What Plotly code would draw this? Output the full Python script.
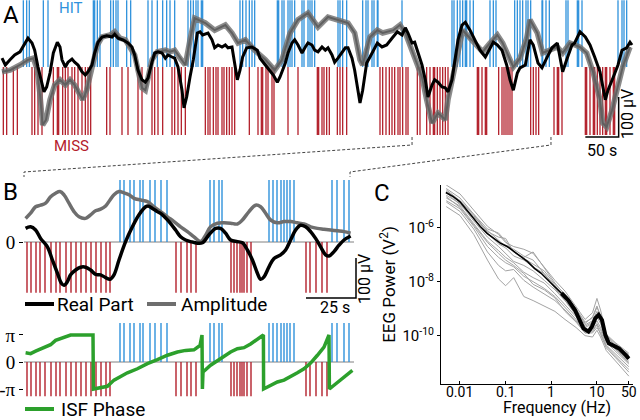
import math
import plotly.graph_objects as go

# ---------------- Panel A : whole session ----------------
hit_times_a = [35, 40, 44, 65, 72, 140, 142, 146, 150, 166, 170, 174, 177, 190, 196,
               222, 228, 236, 244, 250, 255, 262, 282, 286, 290, 294, 297, 302, 304,
               360, 364, 369, 374, 378, 382, 416, 418, 423, 426, 432, 435, 438, 442,
               453, 456, 462, 465, 468, 472, 507, 510, 514, 520, 544, 549, 552, 558,
               561, 566, 567, 603, 678, 681, 686, 690, 694, 698, 700, 705, 710, 735,
               740, 744, 772, 776, 780, 784, 789, 792, 796, 813, 814, 819, 824, 849,
               852, 866, 868, 873, 927, 933, 936, 940]
miss_times_a = [5, 10, 20, 26, 48, 52, 57, 63, 80, 86, 88, 94, 98, 102, 108, 112, 117,
                123, 128, 132, 136, 160, 165, 183, 192, 207, 213, 228, 232, 237, 244,
                258, 262, 267, 272, 278, 308, 312, 315, 320, 324, 327, 333, 336, 340,
                344, 348, 352, 374, 387, 392, 394, 399, 402, 408, 411, 432, 447, 476,
                478, 483, 486, 490, 494, 506, 510, 514, 520, 570, 574, 579, 584, 588,
                592, 597, 600, 604, 609, 612, 626, 630, 640, 645, 650, 652, 656, 660,
                664, 668, 672, 716, 718, 723, 728, 730, 748, 753, 756, 759, 762, 765,
                768, 796, 800, 804, 808, 831, 836, 838, 843, 878, 880, 885, 890, 892,
                896, 900, 904, 908, 910, 915, 920, 922]
real_t_a = [3, 8, 15, 22, 30, 38, 42, 48, 52, 57,
            63, 66, 70, 75, 80, 86, 90, 93, 98, 102,
            108, 112, 117, 123, 128, 132, 138, 142, 147, 153,
            160, 168, 172, 177, 184, 192, 198, 202, 207, 213,
            218, 222, 228, 232, 237, 243, 248, 252, 258, 262,
            267, 273, 276, 280, 285, 290, 296, 300, 304, 312,
            318, 322, 327, 333, 338, 342, 348, 352, 356, 360,
            364, 370, 378, 386, 390, 398, 405, 410, 416, 420,
            428, 432, 438, 442, 447, 453, 458, 462, 468, 472,
            477, 483, 488, 492, 498, 502, 507, 513, 518, 522,
            528, 532, 536, 540, 544, 550, 555, 560, 566, 573,
            580, 588, 596, 603, 608, 612, 618, 622, 627, 633,
            638, 642, 648, 652, 657, 663, 668, 672, 678, 682,
            687, 693, 698, 705, 712, 720, 728, 735, 740, 746,
            753, 760, 765, 770, 776, 780, 788, 795, 800, 807,
            813, 820, 828, 836, 840, 844, 850, 858, 862, 870,
            878, 885, 892, 900, 908, 912, 920, 927, 933, 940,
            945, 948]
real_uv_a = [22, 5, 18, 30, 38, 60, 72, 60, 42, 0,
             -40, -62, -50, -15, 35, 62, 50, 18, 0, 12,
             20, 12, 5, -12, -20, -12, 5, 35, 62, 75,
             78, 75, 82, 72, 68, 60, 50, 30, -8, -32,
             -38, -28, 12, 35, 38, 35, 22, 30, 25, 22,
             0, -58, -102, -75, -25, 18, 85, 88, 80, 85,
             68, 48, 55, 50, 55, 48, 50, 10, -32, -8,
             25, 48, 50, 42, 22, 5, -8, -20, -38, -25,
             10, 35, 60, 68, 55, 35, 50, 60, 55, 42,
             38, 50, 42, 48, 30, 12, 22, 38, 48, 48,
             22, -8, -50, -90, -58, 10, 25, 42, 60, 50,
             55, 72, 88, 80, 98, 85, 60, 62, 38, 5,
             -32, -75, -45, -32, -38, -50, -52, -62, -32, 18,
             68, 105, 112, 92, 68, 42, 25, 48, 62, 55,
             42, 5, -32, -58, -15, -2, 5, 68, 55, 10,
             -2, 22, 48, 60, 25, -12, 18, 55, 60, 88,
             75, 55, 25, -12, -82, -58, -25, 5, 42, 48,
             62, 55]
raw_t_a = [3, 15, 30, 42, 50, 56, 60, 64, 69, 75,
           82, 90, 98, 105, 112, 120, 124, 130, 138, 146,
           153, 165, 172, 180, 188, 195, 202, 207, 213, 218,
           222, 228, 236, 248, 255, 262, 270, 278, 285, 292,
           308, 322, 338, 348, 357, 368, 382, 398, 412, 423,
           435, 447, 462, 477, 492, 507, 522, 532, 540, 544,
           555, 566, 574, 590, 600, 608, 618, 626, 633, 640,
           648, 657, 668, 672, 680, 687, 694, 705, 716, 724,
           735, 746, 754, 765, 770, 780, 790, 795, 806, 814,
           825, 836, 844, 855, 870, 880, 890, 900, 904, 910,
           918, 926, 934, 945]
raw_uv_a = [-12, -8, 5, 18, 22, -8, -70, -145, -132, -82,
            -45, -32, -45, -32, -45, -70, -82, -58, 5, 55,
            75, 80, 88, 72, 68, 48, 30, -8, -52, -58,
            -32, 18, 38, 42, 38, 42, 22, 5, 68, 122,
            110, 92, 105, 85, 60, 68, 42, 18, -8, 18,
            85, 118, 135, 100, 125, 118, 110, 85, 18, 5,
            75, 92, 85, 92, 105, 85, 42, 10, -25, -82,
            -140, -115, -132, -82, -15, 50, 92, 72, 55, 38,
            60, 80, 60, 18, 0, 22, 72, 118, 85, 35,
            42, 50, 35, 60, 50, 35, -15, -82, -140, -150,
            -108, -50, 0, 50]

# ---------------- Panel B : zoomed segment ----------------
hit_times_b = [48, 50, 53, 55, 58, 59.5, 63, 65.5, 68.5, 71.5, 93, 95, 97.5, 99,
               122.5, 124.5, 126.5, 128.5, 130, 131.5, 133, 135, 154, 156.5, 160, 162.5]
miss_times_b = [1.5, 3.5, 6, 8, 10.5, 13.5, 16, 18, 21, 23.5, 26, 28.5, 31, 33.5, 36,
                38.5, 41, 43, 76, 78.5, 81.5, 83.5, 86, 103.5, 105, 106.5, 108, 109,
                110, 111.5, 113.5, 141, 143, 146, 149, 151.5]
real_t_b = [0.8, 3.3, 5.8, 8.3, 11.7, 14.2, 16.7, 18.7, 20, 21.7, 23.3, 25.8, 28.3,
            30.8, 33.3, 35.8, 38.3, 40.8, 43, 45, 47.5, 50.8, 54.2, 57.5, 60.8, 62,
            64.2, 66.7, 69.2, 72.5, 75.8, 78.3, 80.8, 83.3, 86.7, 89.2, 92.5, 95.8,
            98.3, 100.8, 103.3, 106.7, 109.2, 111.7, 114.2, 116.7, 118.3, 120, 122.5,
            125, 128.3, 130.8, 133.3, 135.8, 138.3, 140.8, 143.3, 145.8, 148.3, 150.8,
            152.5, 155, 157.5, 160, 163.3]
real_uv_b = [34, 38, 30, 9, -12, -45, -78, -103, -108, -99, -82, -70, -63,
             -63, -70, -81, -82, -89, -93, -82, -45, 1, 38, 68, 88, 90,
             84, 76, 68, 51, 30, 13, 5, 1, -3, -2, 18, 34,
             34, 22, 5, 1, -2, -20, -45, -78, -93, -87, -62,
             -41, -32, -20, 5, 30, 42, 38, 26, 9, -12, -32,
             -35, -24, -8, 5, 15]
amp_t_b = [0.8, 3.3, 5.8, 8.3, 10.8, 13.3, 15.8, 18, 20, 22.5, 25, 27.5, 30.8, 33.3,
           35.8, 38.3, 40.8, 43, 45, 47.5, 50, 52.5, 55, 58.3, 61.7, 65, 68.3, 71.7,
           75, 78.3, 81.7, 85, 88.3, 90.8, 93.3, 96.7, 100, 103.3, 106.7, 109.2,
           112.5, 115.8, 118.3, 120.8, 123.3, 126.7, 130, 133.3, 136.7, 140, 143.3,
           146.7, 150, 153.3, 156.7, 160, 163.3]
amp_uv_b = [59, 72, 88, 92, 97, 113, 122, 126, 118, 97, 76, 63, 59, 68,
            78, 82, 90, 105, 118, 126, 123, 118, 109, 105, 101, 88, 76, 63,
            51, 38, 26, 13, 1, 17, 38, 47, 48, 47, 45, 55,
            76, 92, 88, 72, 55, 48, 51, 51, 48, 45, 38,
            34, 32, 30, 28, 26, 22]
phase_t_b = [0.8, 3.3, 5.8, 8.3, 10.8, 13.3, 15.8, 18.3, 20.8, 23.3, 30, 34.5, 34.7,
             38.3, 41.7, 45, 48.3, 51.7, 56.7, 61.7, 66.7, 71.7, 76.7, 80.8, 85, 88,
             89, 89.2, 89.5, 93.3, 96.7, 100, 103.3, 106.7, 110, 113.3, 116.7, 119.7,
             119.8, 123.3, 126.7, 130, 133.3, 136.7, 140, 143.3, 146.7, 150, 152.5,
             152.7, 155, 158.3, 161.7, 164.2]
phase_pi_b = [0.34, 0.31, 0.40, 0.49, 0.58, 0.64, 0.80, 0.86, 0.92, 1.0, 1.0, 1.0, -1.0,
              -0.94, -0.90, -0.67, -0.53, -0.40, -0.25, -0.06, 0.09, 0.25, 0.37, 0.43,
              0.45, 0.61, 1.0, -1.0, -0.37, -0.12, 0.06, 0.21, 0.37, 0.49, 0.53, 0.67,
              0.86, 1.0, -1.0, -0.86, -0.74, -0.67, -0.55, -0.40, -0.25, -0.04, 0.25,
              0.55, 1.0, -1.0, -0.86, -0.67, -0.49, -0.31]
legend_labels_b = ["Real Part", "Amplitude", "ISF Phase"]

# ---------------- Panel C : EEG power spectra ----------------
freq_ticks_c = [0.01, 0.1, 1, 10, 50]
freq_tick_labels_c = ["0.01", "0.1", "1", "10", "50"]
freq_mean = [0.0049, 0.0071, 0.01, 0.014, 0.0198, 0.0278, 0.0392, 0.0551, 0.0774, 0.109,
             0.153, 0.215, 0.303, 0.427, 0.60, 0.843, 1.19, 1.67, 2.34, 3.30,
             4.27, 5.06, 6.53, 7.74, 9.18, 10.9, 12.9, 15.3, 18.2, 21.5,
             30.3, 42.7, 50]
log10_power_mean = [-4.70, -4.85, -5.04, -5.35, -5.65, -5.96, -6.21, -6.40, -6.58, -6.70,
                    -6.89, -7.07, -7.26, -7.51, -7.69, -7.94, -8.19, -8.43, -8.68, -9.05,
                    -9.42, -9.73, -9.85, -9.67, -9.36, -9.23, -9.42, -9.98, -10.28, -10.35,
                    -10.47, -10.72, -10.85]
freq_grid = [0.005, 0.01, 0.02, 0.04, 0.07, 0.1, 0.15, 0.25, 0.4, 0.7, 1.2, 2, 3.5, 5.5,
             8, 10, 12, 16, 25, 35, 50]
log10_power_s1 = [-4.42, -4.75, -5.35, -5.95, -6.25, -6.55, -6.70, -6.80, -6.95, -7.45, -7.95,
                  -8.35, -8.95, -9.40, -9.15, -8.62, -9.05, -9.95, -10.25, -10.45, -10.65]
log10_power_s2 = [-4.55, -4.90, -5.50, -6.05, -6.20, -6.50, -6.90, -7.10, -6.90, -7.50, -8.05,
                  -8.50, -9.05, -9.55, -9.30, -8.90, -9.30, -10.05, -10.35, -10.55, -10.75]
log10_power_s3 = [-4.65, -5.00, -5.55, -6.20, -6.60, -6.75, -7.05, -7.20, -7.45, -7.70, -8.15,
                  -8.55, -9.10, -9.60, -9.45, -9.10, -9.40, -10.10, -10.40, -10.60, -10.85]
log10_power_s4 = [-4.80, -5.10, -5.75, -6.35, -6.70, -6.95, -7.25, -7.40, -7.60, -7.95, -8.30,
                  -8.70, -9.20, -9.70, -9.55, -9.30, -9.55, -10.15, -10.50, -10.70, -10.95]
log10_power_s5 = [-4.90, -5.20, -5.85, -6.50, -6.85, -7.10, -7.30, -7.65, -7.85, -8.05, -8.45,
                  -8.85, -9.30, -9.80, -9.70, -9.45, -9.70, -10.25, -10.55, -10.80, -11.05]
log10_power_s6 = [-5.00, -5.30, -5.95, -6.70, -7.10, -7.30, -7.45, -7.80, -8.00, -8.25, -8.55,
                  -8.95, -9.40, -9.85, -9.80, -9.55, -9.80, -10.35, -10.65, -10.90, -11.15]
log10_power_s7 = [-5.05, -5.40, -6.05, -6.90, -7.40, -7.60, -7.55, -7.95, -8.20, -8.45, -8.70,
                  -9.05, -9.45, -9.90, -9.90, -9.70, -9.90, -10.40, -10.75, -11.00, -11.25]
log10_power_s8 = [-5.22, -5.55, -6.25, -7.20, -7.90, -8.15, -7.85, -8.55, -8.70, -8.90, -9.10,
                  -9.40, -9.70, -10.00, -10.05, -9.80, -10.05, -10.55, -10.90, -11.20, -11.50]
log10_power_s9 = [-4.70, -5.15, -5.60, -6.10, -6.45, -6.70, -6.80, -7.05, -7.20, -7.70, -8.25,
                  -8.70, -9.25, -9.65, -9.50, -9.20, -9.45, -10.20, -10.45, -10.75, -11.00]
log10_power_s10 = [-4.85, -5.25, -5.90, -6.55, -6.95, -7.20, -7.40, -7.70, -8.10, -8.30, -8.60,
                   -9.10, -9.50, -9.90, -9.85, -9.60, -9.95, -10.45, -10.80, -11.05, -11.35]
log10_power_s11 = [-4.60, -5.00, -5.50, -6.15, -6.35, -6.40, -6.90, -7.15, -7.35, -7.60, -8.10,
                   -8.45, -9.00, -9.50, -9.35, -8.95, -9.25, -10.00, -10.30, -10.50, -10.70]
subject_spectra = [log10_power_s1, log10_power_s2, log10_power_s3, log10_power_s4,
                   log10_power_s5, log10_power_s6, log10_power_s7, log10_power_s8,
                   log10_power_s9, log10_power_s10, log10_power_s11]

# ---------------- styling ----------------
FONT = "Roboto"
SERIF = "Liberation Serif"
BLUE = "#2f92dc"
RED = "#b3202b"
GREEN = "#2ca02c"
AMP_GRAY = "#6e6e6e"
W, H = 640, 420


def px(x):
    return x / W


def py(y):
    return 1 - y / H


def raster(times, y0, y1):
    xs, ys = [], []
    for t in times:
        xs += [t, t, None]
        ys += [y0, y1, None]
    return xs, ys


fig = go.Figure()

# ---- Panel A ----
for times, top, col in [(hit_times_a, 167, BLUE), (miss_times_a, -170, RED)]:
    xs, ys = raster(times, 0, top)
    fig.add_trace(go.Scatter(x=xs, y=ys, mode="lines", line=dict(color=col, width=1.3),
                             showlegend=False, hoverinfo="skip", xaxis="x", yaxis="y"))
fig.add_trace(go.Scatter(x=raw_t_a, y=raw_uv_a, mode="lines",
                         line=dict(color="rgba(110,110,110,0.8)", width=5.5),
                         showlegend=False, xaxis="x", yaxis="y"))
fig.add_trace(go.Scatter(x=raw_t_a, y=raw_uv_a, mode="lines",
                         line=dict(color="#606060", width=2),
                         showlegend=False, xaxis="x", yaxis="y"))
fig.add_trace(go.Scatter(x=real_t_a, y=real_uv_a, mode="lines",
                         line=dict(color="black", width=3), showlegend=False,
                         xaxis="x", yaxis="y"))
# scale bar A : 50 s / 100 uV
fig.add_trace(go.Scatter(x=[878, 928, 928], y=[-175, -175, -75], mode="lines",
                         line=dict(color="black", width=1.5), showlegend=False,
                         xaxis="x", yaxis="y"))

# ---- Panel B top ----
fig.add_trace(go.Scatter(x=[0, 165], y=[0, 0], mode="lines",
                         line=dict(color="#808080", width=1), showlegend=False,
                         xaxis="x2", yaxis="y2"))
for times, top, col in [(hit_times_b, 155, BLUE), (miss_times_b, -127, RED)]:
    xs, ys = raster(times, 0, top)
    fig.add_trace(go.Scatter(x=xs, y=ys, mode="lines", line=dict(color=col, width=1.4),
                             showlegend=False, hoverinfo="skip", xaxis="x2", yaxis="y2"))
fig.add_trace(go.Scatter(x=amp_t_b, y=amp_uv_b, mode="lines", name=legend_labels_b[1],
                         line=dict(color=AMP_GRAY, width=3.5), showlegend=False,
                         xaxis="x2", yaxis="y2", line_shape="spline"))
fig.add_trace(go.Scatter(x=real_t_b, y=real_uv_b, mode="lines", name=legend_labels_b[0],
                         line=dict(color="black", width=3.5), showlegend=False,
                         xaxis="x2", yaxis="y2", line_shape="spline"))
fig.add_trace(go.Scatter(x=[141, 166, 166], y=[-140, -140, -40], mode="lines",
                         line=dict(color="black", width=1.5), showlegend=False,
                         xaxis="x2", yaxis="y2"))

# ---- Panel B bottom ----
fig.add_trace(go.Scatter(x=[0, 165], y=[0, 0], mode="lines",
                         line=dict(color="#808080", width=1), showlegend=False,
                         xaxis="x3", yaxis="y3"))
for times, top, col in [(hit_times_b, 1.44, BLUE), (miss_times_b, -1.27, RED)]:
    xs, ys = raster(times, 0, top)
    fig.add_trace(go.Scatter(x=xs, y=ys, mode="lines", line=dict(color=col, width=1.4),
                             showlegend=False, hoverinfo="skip", xaxis="x3", yaxis="y3"))
fig.add_trace(go.Scatter(x=phase_t_b, y=phase_pi_b, mode="lines", name=legend_labels_b[2],
                         line=dict(color=GREEN, width=3.5), showlegend=False,
                         xaxis="x3", yaxis="y3"))

# ---- Panel C ----
for spec in subject_spectra:
    fig.add_trace(go.Scatter(x=freq_grid, y=[10 ** v for v in spec], mode="lines",
                             line=dict(color="#a3a3a3", width=1), showlegend=False,
                             xaxis="x4", yaxis="y4"))
mean_power = [10 ** v for v in log10_power_mean]
fig.add_trace(go.Scatter(x=freq_mean, y=mean_power, mode="lines",
                         line=dict(color="black", width=1.6), showlegend=False,
                         xaxis="x4", yaxis="y4"))
hi = [i for i, f in enumerate(freq_mean) if f >= 1.5]
fig.add_trace(go.Scatter(x=[freq_mean[i] for i in hi], y=[mean_power[i] for i in hi],
                         mode="lines", line=dict(color="black", width=4), showlegend=False,
                         xaxis="x4", yaxis="y4"))

serif_tick = dict(family=SERIF, size=19, color="black")
fig.update_layout(
    width=W, height=H, template="none", showlegend=False,
    margin=dict(l=0, r=0, t=0, b=0),
    paper_bgcolor="white", plot_bgcolor="rgba(0,0,0,0)",
    font=dict(family=FONT, color="black", size=14),
    xaxis=dict(domain=[0, px(634)], range=[0, 951], visible=False, anchor="y"),
    yaxis=dict(domain=[py(140), 1], range=[-182.5, 167.5], visible=False, anchor="x"),
    xaxis2=dict(domain=[px(24), px(364)], range=[0, 170], visible=False, anchor="y2"),
    yaxis2=dict(domain=[py(300), py(178)], range=[-145, 160], anchor="x2",
                showgrid=False, zeroline=False, showline=False,
                tickvals=[0], ticktext=["0"], ticks="outside", ticklen=4,
                tickcolor="black", tickwidth=1, tickfont=serif_tick, ticklabelstandoff=0),
    xaxis3=dict(domain=[px(24), px(364)], range=[0, 170], visible=False, anchor="y3"),
    yaxis3=dict(domain=[py(400), py(322)], range=[-1.407, 1.481], anchor="x3",
                showgrid=False, zeroline=False, showline=False,
                tickvals=[-1, 0, 1], ticktext=["-π", "0", "π"], ticks="outside",
                ticklen=4, tickcolor="black", tickwidth=1, tickfont=serif_tick,
                ticklabelstandoff=0),
    xaxis4=dict(domain=[px(441), px(633)], type="log", range=[-2.416, 1.79], anchor="y4",
                showgrid=False, zeroline=False, showline=True, linecolor="black",
                linewidth=1, ticks="inside", ticklen=3, tickcolor="black",
                tickvals=freq_ticks_c, showticklabels=False),
    yaxis4=dict(domain=[py(384), py(185)], type="log", range=[-11.79, -4.42], anchor="x4",
                showgrid=False, zeroline=False, showline=True, linecolor="black",
                linewidth=1, ticks="outside", ticklen=3, tickcolor="black",
                tickvals=[1e-6, 1e-8, 1e-10],
                ticktext=["10<sup>-6</sup>", "10<sup>-8</sup>", "10<sup>-10</sup>"],
                tickfont=dict(family=FONT, size=15),
                title=dict(text="EEG Power (V<sup>2</sup>)", font=dict(family=FONT, size=17),
                           standoff=2)),
)

ann = [
    dict(text="A", x=px(1), y=py(-1), xanchor="left", yanchor="top", font=dict(size=24)),
    dict(text="B", x=px(1), y=py(176), xanchor="left", yanchor="top", font=dict(size=24)),
    dict(text="C", x=px(372), y=py(177), xanchor="left", yanchor="top", font=dict(size=24)),
    dict(text="HIT", x=px(71), y=py(8), font=dict(size=15, color=BLUE)),
    dict(text="MISS", x=px(71), y=py(146), font=dict(size=15, color=RED)),
    dict(text="50 s", x=px(602), y=py(150), font=dict(size=16)),
    dict(text="100 µV", x=px(628), y=py(114), textangle=-90, font=dict(size=16)),
    dict(text="25 s", x=px(335), y=py(307), font=dict(size=16)),
    dict(text="100 µV", x=px(364), y=py(279), textangle=-90, font=dict(size=16)),
    dict(text="Frequency (Hz)", x=px(557), y=py(419), xanchor="center", yanchor="bottom",
         font=dict(size=16)),
    # legend labels for panel B
    dict(text=legend_labels_b[0], x=px(55), y=py(304), xanchor="left", yanchor="middle",
         font=dict(size=19)),
    dict(text=legend_labels_b[1], x=px(179), y=py(304), xanchor="left", yanchor="middle",
         font=dict(size=19)),
    dict(text=legend_labels_b[2], x=px(59), y=py(409), xanchor="left", yanchor="middle",
         font=dict(size=19)),
]
for a in ann:
    a.update(xref="paper", yref="paper", showarrow=False)
    if "xanchor" not in a:
        a.update(xanchor="center", yanchor="middle")
# x tick labels of panel C, placed on the log frequency axis (log10 units for annotations)
for fv, lab in zip(freq_ticks_c, freq_tick_labels_c):
    ann.append(dict(text=lab, x=math.log10(fv), xref="x4", y=py(382), yref="paper",
                    showarrow=False, xanchor="center", yanchor="top",
                    font=dict(size=14)))
fig.update_layout(annotations=ann)

# legend keys (line samples) for panel B
for x0, x1, yy, col in [(25, 54, 304, "black"), (147, 176, 304, AMP_GRAY),
                        (25, 54, 409, GREEN)]:
    fig.add_shape(type="line", xref="paper", yref="paper", x0=px(x0), x1=px(x1),
                  y0=py(yy), y1=py(yy), line=dict(color=col, width=4))

# dashed connectors from panel A segment to panel B
for xa, xb in [(412, 24), (551, 350)]:
    path = "M {:.4f},{:.4f} L {:.4f},{:.4f} L {:.4f},{:.4f} L {:.4f},{:.4f}".format(
        px(xa), py(137), px(xa), py(145), px(xb), py(172), px(xb), py(177))
    fig.add_shape(type="path", path=path, xref="paper", yref="paper",
                  line=dict(color="#444444", width=1, dash="3px,2px"))

fig.write_html("out.html", config={"displayModeBar": False},
               post_script="document.body.style.margin='0px';"
                           "document.body.style.overflow='hidden';")
